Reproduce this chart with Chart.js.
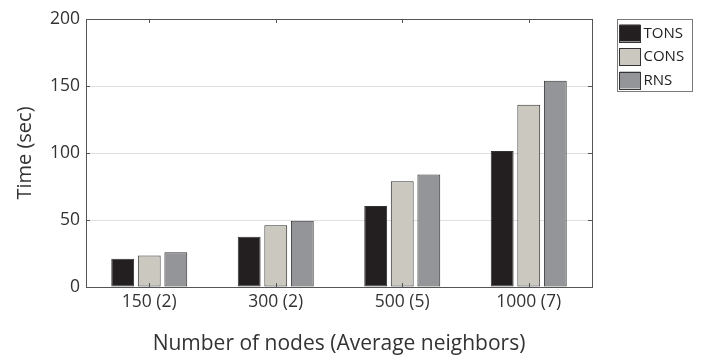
<!DOCTYPE html>
<html>
<head>
<meta charset="utf-8">
<script src="https://cdn.jsdelivr.net/npm/chart.js@4"></script>
<style>
  html, body { margin: 0; padding: 0; background: #fff; }
  #wrap { width: 715px; height: 358px; }
</style>
</head>
<body>
<div id="wrap"><canvas id="chart" width="715" height="358"></canvas></div>
<script>
'use strict';

// 그래프 데이터
const categories = ['150 (2)', '300 (2)', '500 (5)', '1000 (7)'];
const seriesNames = ['TONS', 'CONS', 'RNS'];
const tonsTimes = [21, 37.5, 60.5, 101.5];
const consTimes = [23.5, 46, 79, 136];
const rnsTimes = [26, 49.5, 84, 154];
const yTickValues = [0, 50, 100, 150, 200];

const FONT = "'Open Sans', sans-serif";
const TEXT = '#333333';
const FRAME = '#555555';
const colors = ['#231f20', '#cbc8c0', '#939598'];

// 축 틱(안쪽) + 테두리 + 범례
const framePlugin = {
  id: 'frame',
  afterDatasetsDraw(chart) {
    const { ctx, chartArea: a, scales } = chart;
    ctx.save();
    ctx.strokeStyle = FRAME;
    ctx.lineWidth = 1;
    ctx.strokeRect(Math.round(a.left) + 0.5, Math.round(a.top) + 0.5,
      Math.round(a.right - a.left), Math.round(a.bottom - a.top));
    ctx.beginPath();
    scales.x.ticks.forEach((t, i) => {
      const x = Math.round(scales.x.getPixelForTick(i)) + 0.5;
      ctx.moveTo(x, a.top); ctx.lineTo(x, a.top + 4);
      ctx.moveTo(x, a.bottom); ctx.lineTo(x, a.bottom - 4);
    });
    yTickValues.forEach(v => {
      const y = Math.round(scales.y.getPixelForValue(v)) + 0.5;
      ctx.moveTo(a.left, y); ctx.lineTo(a.left + 4, y);
      ctx.moveTo(a.right, y); ctx.lineTo(a.right - 4, y);
    });
    ctx.stroke();

    // 범례
    const bx = Math.round(a.right) + 25.5, by = Math.round(a.top) + 0.5;
    ctx.strokeStyle = '#7a7a7a';
    ctx.strokeRect(bx, by, 75, 72);
    ctx.font = '15px ' + FONT;
    ctx.textBaseline = 'middle';
    ctx.textAlign = 'left';
    chart.data.datasets.forEach((ds, i) => {
      const sy = by + 5 + i * 23.5;
      ctx.fillStyle = ds.backgroundColor;
      ctx.fillRect(bx + 2, sy, 21, 17);
      ctx.strokeStyle = '#333';
      ctx.strokeRect(bx + 2, Math.round(sy) + 0.5, 21, 17);
      ctx.fillStyle = '#222';
      ctx.fillText(ds.label, bx + 26, sy + 9);
    });
    ctx.restore();
  },
};

new Chart(document.getElementById('chart'), {
  type: 'bar',
  data: {
    labels: categories,
    datasets: [tonsTimes, consTimes, rnsTimes].map((d, i) => ({
      label: seriesNames[i],
      data: d,
      backgroundColor: colors[i],
      borderColor: '#333333',
      borderWidth: 1,
      borderSkipped: false,
      barPercentage: 0.86,
      categoryPercentage: 0.63,
    })),
  },
  options: {
    responsive: false,
    animation: false,
    devicePixelRatio: 1,
    layout: { padding: { top: 19, right: 123, left: 0, bottom: 0 } },
    plugins: { legend: { display: false }, tooltip: { enabled: false } },
    scales: {
      x: {
        grid: { display: false, drawTicks: false },
        border: { display: false },
        ticks: { color: TEXT, padding: 5, font: { family: FONT, size: 17.5 } },
        title: {
          display: true,
          text: 'Number of nodes (Average neighbors)',
          color: TEXT,
          font: { family: FONT, size: 21 },
          padding: { top: 0, bottom: 1 },
        },
        afterFit(scale) { scale.height = 71; },
      },
      y: {
        min: 0,
        max: 200,
        afterBuildTicks(scale) { scale.ticks = yTickValues.map(v => ({ value: v })); },
        grid: { color: '#e0e0e0', drawTicks: false },
        border: { display: false },
        ticks: { color: TEXT, padding: 6, font: { family: FONT, size: 17.5 } },
        title: {
          display: true,
          text: 'Time (sec)',
          color: TEXT,
          font: { family: FONT, size: 20 },
          padding: { top: 13, bottom: 0 },
        },
        afterFit(scale) { scale.width = 86; },
      },
    },
  },
  plugins: [framePlugin],
});
</script>
</body>
</html>
